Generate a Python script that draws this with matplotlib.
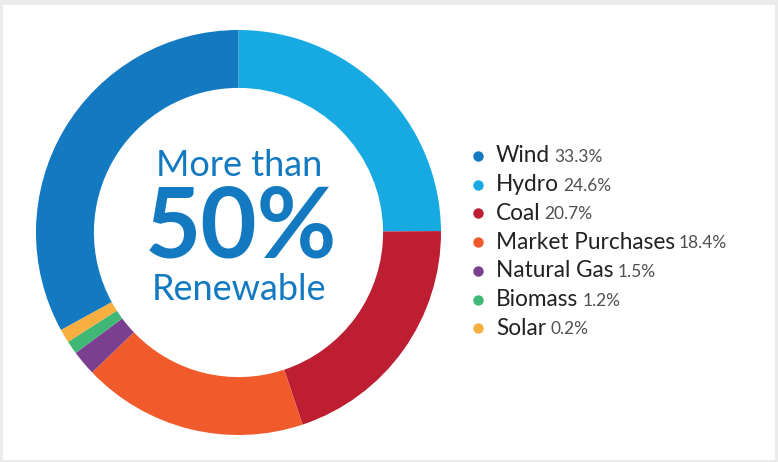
import matplotlib
matplotlib.use("Agg")
import matplotlib.pyplot as plt
from matplotlib.patches import Rectangle

# Data
categories = ["Wind", "Hydro", "Coal", "Market Purchases", "Natural Gas", "Biomass", "Solar"]
reported_pct = [33.3, 24.6, 20.7, 18.4, 1.5, 1.2, 0.2]
# slice shares as drawn in the picture (clockwise from top: Hydro ... Wind)
drawn_share = [33.0, 24.9, 20.0, 18.0, 2.0, 1.05, 1.1]
colors = ["#1379c1", "#17a9e1", "#bd1e32", "#f15a2b", "#7b3f8f", "#3fb775", "#f9ae40"]
center_lines = ["More than", "50%", "Renewable"]

W, H = 778, 462
fig = plt.figure(figsize=(W / 100, H / 100), dpi=100)
fig.patch.set_facecolor("#ebebeb")
bg = fig.add_axes([0, 0, 1, 1])
bg.set_xlim(0, W)
bg.set_ylim(H, 0)
bg.axis("off")
bg.add_patch(Rectangle((3, 5), 772, 455, facecolor="white", edgecolor="none"))

# Donut: centre (238.5, 232.5), radius 202.5 px
cx, cy, R = 238.5, 232.5, 202.5
ax = fig.add_axes([(cx - R) / W, (H - cy - R) / H, 2 * R / W, 2 * R / H])
ax.set_aspect("equal")
order = [1, 2, 3, 4, 5, 6, 0]  # clockwise from 12 o'clock
vals = [drawn_share[i] for i in order]
cols = [colors[i] for i in order]
ax.pie(vals, colors=cols, startangle=90, counterclock=False, radius=1.0,
       wedgeprops=dict(width=0.286, edgecolor="none", linewidth=0, antialiased=True))
ax.set_xlim(-1, 1)
ax.set_ylim(-1, 1)
ax.axis("off")

blue = "#1379c1"
bg.text(239, 166, center_lines[0], ha="center", va="center", fontsize=26,
        family="Lato", color=blue)
bg.text(241, 229, center_lines[1], ha="center", va="center", fontsize=70,
        family="Lato", fontweight="bold", color=blue)
bg.text(239, 289, center_lines[2], ha="center", va="center", fontsize=26,
        family="Lato", color=blue)

# Legend
y0, dy = 156, 28.7
for i, (cat, pct, col) in enumerate(zip(categories, reported_pct, colors)):
    y = y0 + i * dy
    bg.plot(478.5, y, "o", ms=7.5, color=col, mec="none")
    t = bg.text(496, y, cat, ha="left", va="center", fontsize=16.3,
                family="Lato", color="#222222")
    fig.canvas.draw()
    bb = t.get_window_extent()
    x_end = bb.x1
    bg.text(x_end + 4, y + 1, f"{pct:.1f}%", ha="left", va="center",
            fontsize=12.5, family="Lato", fontweight="normal", color="#505050")

fig.savefig("out.png", dpi=100, facecolor=fig.get_facecolor())
